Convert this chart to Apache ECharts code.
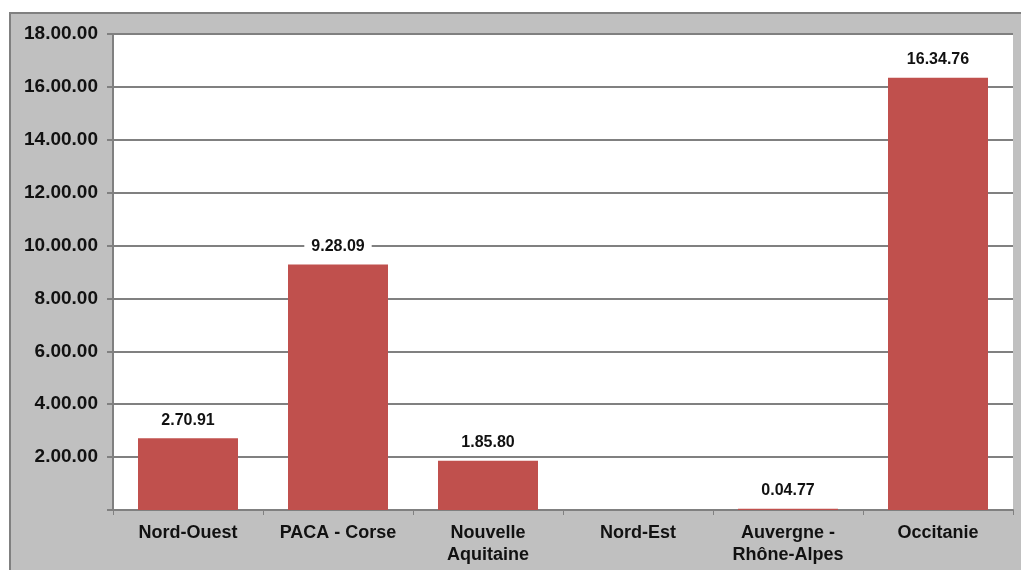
<!DOCTYPE html>
<html><head><meta charset="utf-8">
<script src="https://cdn.jsdelivr.net/npm/echarts@6/dist/echarts.min.js"></script>
<style>html,body{margin:0;padding:0;background:#fff;}#c{width:1021px;height:570px;}</style>
</head><body><div id="c"></div>
<script>
const categories = ['Nord-Ouest', 'PACA - Corse', 'Nouvelle\nAquitaine', 'Nord-Est', 'Auvergne -\nRhône-Alpes', 'Occitanie'];
const values = [2.7091, 9.2809, 1.8580, null, 0.0477, 16.3476];
const yMin = 0, yMax = 18, yStep = 2;

function fmt(v) {
  const s = Number(v).toFixed(4);
  const [i, d] = s.split('.');
  return i + '.' + d.slice(0, 2) + '.' + d.slice(2);
}

const chart = echarts.init(document.getElementById('c'));
chart.setOption({
  animation: false,
  backgroundColor: 'transparent',
  graphic: [{
    type: 'rect', z: -100, silent: true,
    shape: { x: 10, y: 13, width: 1100, height: 600 },
    style: { fill: '#c0c0c0', stroke: '#808080', lineWidth: 2 }
  }],
  grid: { left: 113, top: 34, right: 8, bottom: 60, show: true, backgroundColor: '#ffffff', borderWidth: 0 },
  xAxis: {
    type: 'category', data: categories,
    axisLine: { lineStyle: { color: '#808080', width: 2 } },
    axisTick: { show: true, length: 5, lineStyle: { color: '#808080', width: 1 } },
    axisLabel: { color: '#111', fontFamily: 'Liberation Sans, Arial, sans-serif', fontWeight: 'bold', fontSize: 18, margin: 12, lineHeight: 22, interval: 0 }
  },
  yAxis: {
    type: 'value', min: yMin, max: yMax, interval: yStep,
    axisLine: { show: true, lineStyle: { color: '#808080', width: 2 } },
    axisTick: { show: true, length: 6, lineStyle: { color: '#808080', width: 2 } },
    splitLine: { lineStyle: { color: '#808080', width: 2 } },
    axisLabel: { color: '#111', fontFamily: 'Liberation Sans, Arial, sans-serif', fontWeight: 'bold', fontSize: 19, margin: 15,
      formatter: v => v === 0 ? '' : fmt(v) }
  },
  series: [{
    type: 'bar', data: values, barWidth: 100,
    itemStyle: { color: '#c0504d' },
    label: {
      show: true, position: 'top', distance: 8,
      color: '#111', fontFamily: 'Liberation Sans, Arial, sans-serif', fontWeight: 'bold', fontSize: 16,
      backgroundColor: '#ffffff', padding: [2, 7],
      formatter: p => p.value == null ? '' : fmt(p.value)
    }
  }]
});
</script></body></html>
